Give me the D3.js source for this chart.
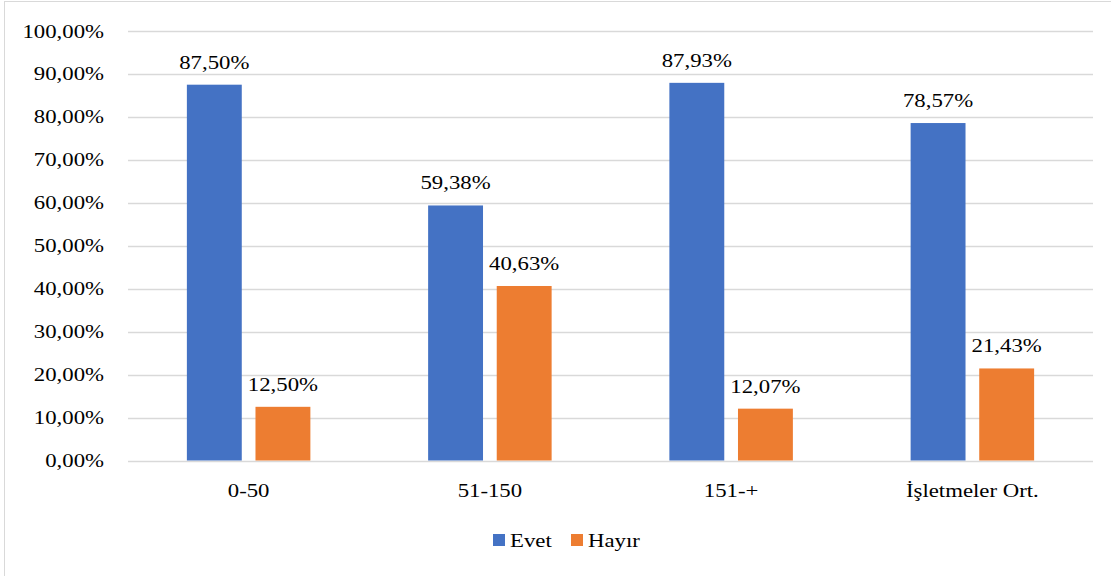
<!DOCTYPE html>
<html><head><meta charset="utf-8">
<script src="https://cdn.jsdelivr.net/npm/d3@7"></script>
<style>body{margin:0;background:#fff}svg{display:block}
text{font-family:"Liberation Serif","Times New Roman",serif;}</style>
</head><body>
<svg id="c" width="1111" height="576"></svg>
<script>
const categories = ["0-50", "51-150", "151-+", "İşletmeler Ort."];
const seriesNames = ["Evet", "Hayır"];
const evet = [87.50, 59.38, 87.93, 78.57];
const hayir = [12.50, 40.63, 12.07, 21.43];
const yTicks = [0,10,20,30,40,50,60,70,80,90,100];
const colors = ["#4472C4", "#ED7D31"];

const svg = d3.select("#c");
const sx = 1.15;
const fmt = v => v.toFixed(2).replace(".", ",") + "%";

svg.append("rect").attr("x",4.5).attr("y",1.5).attr("width",1120).attr("height",600)
  .attr("fill","#fff").attr("stroke","#d9d9d9").attr("stroke-width",1);

const x = d3.scaleBand().domain(categories).range([128,1093]);
const y = d3.scaleLinear().domain([0,100]).range([460.5,31]);
const inner = d3.scaleBand().domain(seriesNames).range([0,123.5]).paddingInner(0.2);
const off = (x.bandwidth()-123.5)/2;

function txt(g, xp, yp, s, anchor){
  return g.append("text").attr("transform",`translate(${xp},${yp}) scale(${sx},1)`)
    .attr("text-anchor",anchor).style("font-size","19.8px")
    .attr("fill","#000").text(s);
}

// gridlines
svg.append("g").selectAll("line").data(yTicks).join("line")
  .attr("x1",128).attr("x2",1093).attr("y1",d=>Math.round(y(d))+0.5).attr("y2",d=>Math.round(y(d))+0.5)
  .attr("stroke","#d9d9d9").attr("stroke-width",1.5);

// y labels
const gy = svg.append("g");
yTicks.forEach(t => txt(gy, 104, y(t)+6.5, fmt(t), "end"));

const data = [evet, hayir];
const gb = svg.append("g");
data.forEach((vals, si) => {
  vals.forEach((v, ci) => {
    const bx = x(categories[ci]) + off + inner(seriesNames[si]);
    gb.append("rect").attr("x",bx).attr("y",y(v)).attr("width",inner.bandwidth())
      .attr("height",y(0)-y(v)).attr("fill",colors[si]);
    txt(gb, bx+inner.bandwidth()/2, y(v)-16, fmt(v), "middle");
  });
});

// x labels
const gx = svg.append("g");
categories.forEach(c => txt(gx, x(c)+x.bandwidth()/2, 497, c, "middle"));

// legend
const gl = svg.append("g");
const legX = [493, 571];
seriesNames.forEach((s,i) => {
  gl.append("rect").attr("x",legX[i]).attr("y",534).attr("width",12).attr("height",12).attr("fill",colors[i]);
  txt(gl, legX[i]+17, 546.5, s, "start");
});
</script>
</body></html>
